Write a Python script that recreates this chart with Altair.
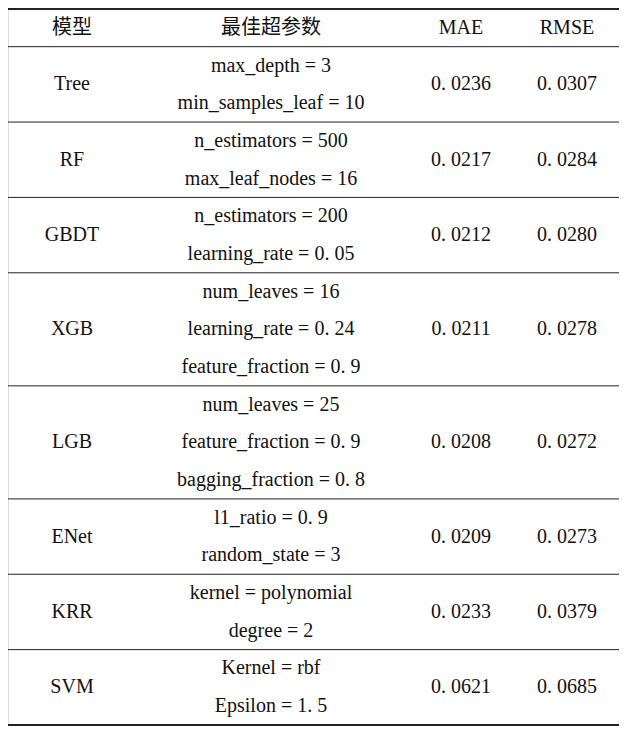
import altair as alt
import pandas as pd

# ---- data ----
headers = ["模型", "最佳超参数", "MAE", "RMSE"]
models = ["Tree", "RF", "GBDT", "XGB", "LGB", "ENet", "KRR", "SVM"]
params = [
    ["max_depth = 3", "min_samples_leaf = 10"],
    ["n_estimators = 500", "max_leaf_nodes = 16"],
    ["n_estimators = 200", "learning_rate = 0. 05"],
    ["num_leaves = 16", "learning_rate = 0. 24", "feature_fraction = 0. 9"],
    ["num_leaves = 25", "feature_fraction = 0. 9", "bagging_fraction = 0. 8"],
    ["l1_ratio = 0. 9", "random_state = 3"],
    ["kernel = polynomial", "degree = 2"],
    ["Kernel = rbf", "Epsilon = 1. 5"],
]
mae = [0.0236, 0.0217, 0.0212, 0.0211, 0.0208, 0.0209, 0.0233, 0.0621]
rmse = [0.0307, 0.0284, 0.0280, 0.0278, 0.0272, 0.0273, 0.0379, 0.0685]

# ---- layout (table geometry) ----
W, H = 611, 718
col_x = [64, 263, 453, 559]


def fmt(v):
    return f"{v:.4f}".replace(".", ". ")


text_rows = []
rule_rows = [{"y": 0, "sw": 2.0}, {"y": 1, "sw": 1.0}]
# header
for i, h in enumerate(headers):
    text_rows.append({"x": col_x[i], "y": 0.5, "t": h, "cjk": i < 2})
pos = 1
for m, plist, a, r in zip(models, params, mae, rmse):
    n = len(plist)
    mid = pos + n / 2
    text_rows.append({"x": col_x[0], "y": mid, "t": m, "cjk": False})
    for k, p in enumerate(plist):
        text_rows.append({"x": col_x[1], "y": pos + k + 0.5, "t": p, "cjk": False})
    text_rows.append({"x": col_x[2], "y": mid, "t": fmt(a), "cjk": False})
    text_rows.append({"x": col_x[3], "y": mid, "t": fmt(r), "cjk": False})
    pos += n
    rule_rows.append({"y": pos, "sw": 1.0})
rule_rows[-1]["sw"] = 2.0
total = pos

tdf = pd.DataFrame(text_rows)
rdf = pd.DataFrame(rule_rows)

xs = alt.Scale(domain=[0, W], range=[0, W])
ys = alt.Scale(domain=[0, total], range=[1, 717])

rules = alt.Chart(rdf).mark_rule(color="#222").encode(
    y=alt.Y("y:Q", scale=ys, axis=None),
    x=alt.value(0),
    x2=alt.value(W),
    strokeWidth=alt.StrokeWidth("sw:Q", scale=None, legend=None),
)

latin = alt.Chart(tdf[~tdf["cjk"]]).mark_text(
    font="Liberation Serif", fontSize=20, color="#111", baseline="middle", align="center"
).encode(
    x=alt.X("x:Q", scale=xs, axis=None),
    y=alt.Y("y:Q", scale=ys, axis=None),
    text="t:N",
)

cjk = alt.Chart(tdf[tdf["cjk"]]).mark_text(
    font="Noto Sans CJK SC", fontSize=20, color="#111", baseline="middle", align="center"
).encode(
    x=alt.X("x:Q", scale=xs, axis=None),
    y=alt.Y("y:Q", scale=ys, axis=None),
    text="t:N",
)

chart = alt.layer(rules, latin, cjk).properties(
    width=W, height=H, padding=0,
    autosize=alt.AutoSizeParams(type="none"),
).configure_view(stroke=None).configure(background="white")

chart.save("out.html", embed_options={"renderer": "svg", "actions": False})
